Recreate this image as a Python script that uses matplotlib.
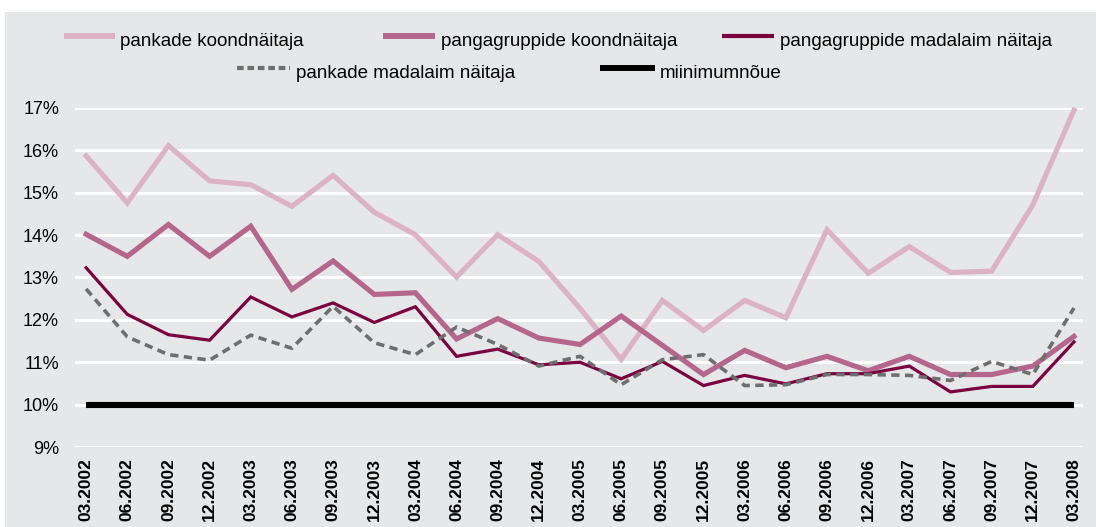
import matplotlib
matplotlib.use("Agg")
import matplotlib.pyplot as plt
from matplotlib.patches import Rectangle
from matplotlib.lines import Line2D

plt.rcParams['font.family'] = ['Liberation Sans', 'DejaVu Sans']

categories = ["03.2002", "06.2002", "09.2002", "12.2002", "03.2003", "06.2003", "09.2003",
              "12.2003", "03.2004", "06.2004", "09.2004", "12.2004", "03.2005", "06.2005",
              "09.2005", "12.2005", "03.2006", "06.2006", "09.2006", "12.2006", "03.2007",
              "06.2007", "09.2007", "12.2007", "03.2008"]

pankade_koond = [15.87, 14.76, 16.11, 15.28, 15.19, 14.68, 15.41, 14.54, 14.01, 13.01, 14.01, 13.38,
                 12.27, 11.07, 12.46, 11.75, 12.46, 12.05, 14.13, 13.10, 13.73, 13.12, 13.15, 14.71, 16.95]
pangagruppide_koond = [14.02, 13.50, 14.25, 13.50, 14.21, 12.72, 13.39, 12.60, 12.64, 11.55, 12.03, 11.57,
                       11.42, 12.09, 11.40, 10.71, 11.28, 10.87, 11.14, 10.80, 11.14, 10.71, 10.71, 10.91, 11.61]
pangagruppide_madal = [13.23, 12.13, 11.65, 11.52, 12.54, 12.07, 12.40, 11.94, 12.31, 11.14, 11.31, 10.94,
                       11.00, 10.61, 11.02, 10.45, 10.69, 10.49, 10.73, 10.73, 10.91, 10.30, 10.43, 10.43, 11.48]
pankade_madal = [12.73, 11.60, 11.18, 11.05, 11.64, 11.33, 12.32, 11.46, 11.18, 11.83, 11.42, 10.91,
                 11.14, 10.47, 11.06, 11.18, 10.45, 10.47, 10.71, 10.71, 10.69, 10.57, 11.02, 10.71, 12.28]
miinimum = [10.0] * len(categories)

yticks = [9, 10, 11, 12, 13, 14, 15, 16, 17]

names = ["pankade koondnäitaja", "pangagruppide koondnäitaja", "pangagruppide madalaim näitaja",
         "pankade madalaim näitaja", "miinimumnõue"]

c_light = '#dbb3c5'
c_mid = '#b4668c'
c_dark = '#7a0040'
c_gray = '#6e6e6e'
c_black = '#000000'
bg = '#e6e7e8'

W, H = 1096, 527
fig = plt.figure(figsize=(W / 100, H / 100), dpi=100)
fig.patches.append(Rectangle((5 / W, 0), 1, 1 - 12 / H, transform=fig.transFigure,
                             facecolor=bg, edgecolor='none', zorder=-10))

ax = fig.add_axes([75 / W, (H - 447) / H, (1083 - 75) / W, (447 - 108) / H])
ax.set_facecolor('none')
x = list(range(len(categories)))

ax.plot(x, pankade_koond, color=c_light, lw=3.7, solid_joinstyle='miter', clip_on=False, zorder=3)
ax.plot(x, pangagruppide_koond, color=c_mid, lw=3.7, solid_joinstyle='miter', clip_on=False, zorder=4)
ax.plot(x, pangagruppide_madal, color=c_dark, lw=2.3, solid_joinstyle='miter', clip_on=False, zorder=5)
ax.plot(x, pankade_madal, color=c_gray, lw=2.6, linestyle=(0, (2.3, 1.5)), clip_on=False, zorder=6)
ax.plot(x, miinimum, color=c_black, lw=4.4, solid_capstyle='butt', clip_on=False, zorder=7)

ax.set_xlim(-0.27, 24.22)
ax.set_ylim(9, 17)
ax.set_yticks(yticks)
ax.set_yticklabels([f"{v}%" for v in yticks], fontsize=13)
ax.set_xticks(x)
ax.set_xticklabels(categories, rotation=90, fontsize=12.5, fontweight='bold', va='top')
ax.tick_params(axis='both', length=0)
ax.tick_params(axis='y', pad=11.5)
ax.tick_params(axis='x', pad=8)
ax.grid(axis='y', color='white', lw=2)
ax.set_axisbelow(True)
for s in ax.spines.values():
    s.set_visible(False)

# legend (manual layout)
styles = [dict(color=c_light, lw=4.3), dict(color=c_mid, lw=4.3), dict(color=c_dark, lw=3.0),
          dict(color=c_gray, lw=3.0, linestyle=(0, (1.6, 0.9))), dict(color=c_black, lw=4.3)]
handles_px = [(64, 115, 36), (383, 435, 36), (722, 774, 36), (237, 290, 68), (600, 655, 68)]
text_px = [120, 441, 780, 296, 660]
for (x0, x1, yy), tx, st, nm in zip(handles_px, text_px, styles, names):
    fig.add_artist(Line2D([x0 / W, x1 / W], [1 - yy / H, 1 - yy / H], transform=fig.transFigure,
                          solid_capstyle='butt', dash_capstyle='butt', **st))
    fig.text(tx / W, 1 - (yy + 5) / H, nm, fontsize=13.5, va='center', ha='left')

fig.savefig("out.png", dpi=100, facecolor='white')
